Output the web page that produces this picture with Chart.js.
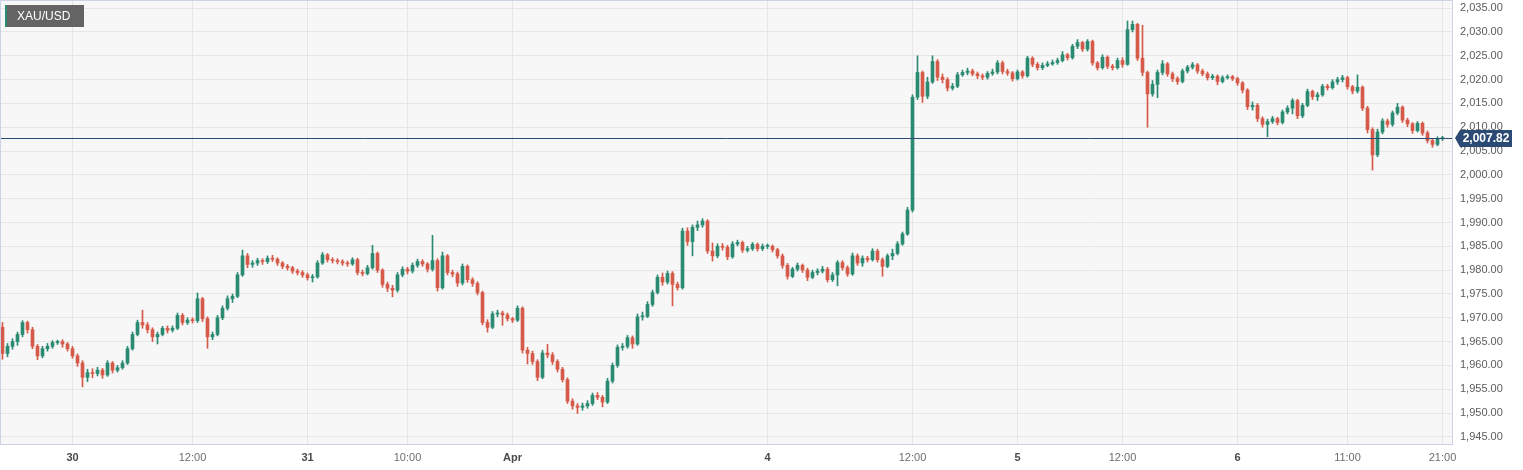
<!DOCTYPE html>
<html>
<head>
<meta charset="utf-8">
<title>XAU/USD</title>
<script src="https://cdn.jsdelivr.net/npm/chart.js@4/dist/chart.umd.min.js"></script>
<style>
  html, body { margin: 0; padding: 0; background: #fff; }
</style>
</head>
<body>
<canvas id="chart" width="1523" height="470"></canvas>
<script>
// 30-minute candles, XAU/USD, Mar 29 -> Apr 6
const symbol = 'XAU/USD';
const firstOpen = 1968;

const closes = [
  1962.5, 1964, 1965, 1966.5, 1969, 1967.5, 1964, 1962, 1963.5, 1964,
  1964.8, 1965, 1964.5, 1963.5, 1962, 1960.5, 1957.5, 1958.5, 1958.3, 1959,
  1958, 1960.5, 1959, 1959.5, 1960.5, 1963.5, 1966.5, 1969, 1968.5, 1967.5,
  1966, 1966.5, 1967.8, 1967.4, 1967.8, 1970.5, 1969, 1969.5, 1969.4, 1974,
  1969.8, 1966, 1966.5, 1970, 1972, 1974, 1974.5, 1979, 1983, 1981.2,
  1981.5, 1982, 1981.8, 1982.5, 1982.3, 1981.5, 1980.8, 1980.5, 1979.8, 1979.5,
  1979, 1978.4, 1978.6, 1981.5, 1983.2, 1982.2, 1982, 1981.8, 1981.5, 1981.3,
  1982.2, 1979.5, 1979.3, 1980.5, 1983.5, 1980, 1977, 1976.2, 1975.8, 1979,
  1980.2, 1979.8, 1981, 1981.8, 1981.3, 1980.2, 1982, 1976.3, 1983, 1979.5,
  1979.2, 1977.3, 1980.8, 1978, 1977.2, 1975.3, 1969, 1968, 1970.8, 1971,
  1970.6, 1969.8, 1969.5, 1972, 1963.2, 1962.5, 1960.8, 1957.5, 1962.6, 1962.2,
  1960.8, 1959.2, 1957, 1952.5, 1951.5, 1951.2, 1951.5, 1952, 1953.7, 1953.3,
  1952.3, 1956.7, 1960, 1963.8, 1964, 1965.8, 1964.5, 1970.2, 1970.3, 1972.8,
  1975.3, 1978.5, 1977.5, 1979.3, 1977, 1976.3, 1988.2, 1986, 1989, 1989.5,
  1990.3, 1984, 1983, 1985, 1984.8, 1982.8, 1985.5, 1985.8, 1984.2, 1984.5,
  1985.4, 1984.5, 1985, 1985, 1984.3, 1983, 1981, 1978.7, 1980.2, 1981,
  1980, 1978.5, 1979.5, 1979.8, 1980.2, 1978, 1979, 1981.6, 1980.5, 1979.2,
  1983, 1981.5, 1982.5, 1982.2, 1984, 1982.2, 1980.8, 1983, 1983.5, 1985.5,
  1987.6, 1992.6, 2016.3, 2021.5, 2016.5, 2019.5, 2023.8, 2020.5, 2020, 2018.2,
  2018.6, 2021, 2021.5, 2021.8, 2021.2, 2020.8, 2020.5, 2021.3, 2021.6, 2023.5,
  2021.7, 2021.4, 2020.2, 2021.6, 2020.8, 2024.5, 2023.2, 2022.5, 2023, 2023.3,
  2023.6, 2024, 2025.2, 2024.6, 2027, 2027.8, 2026.4, 2028, 2023.5, 2022.5,
  2024.7, 2022.8, 2022.5, 2024, 2023.2, 2030.5, 2031.6, 2024.5, 2021.5, 2017,
  2019, 2021.5, 2023.3, 2021.2, 2020.2, 2019.6, 2021.8, 2022.6, 2023.1, 2021.8,
  2021.2, 2020.4, 2020.7, 2019.6, 2020.4, 2020.6, 2020.2, 2019.3, 2017.8, 2014.3,
  2014.6, 2011.8, 2010.6, 2011.2, 2011.8, 2011, 2013.2, 2014, 2015.6, 2012.4,
  2014.6, 2017.5, 2016.4, 2016.8, 2018.6, 2018.3, 2019.5, 2020, 2020.4, 2018.5,
  2017.6, 2018.4, 2014, 2009.5, 2004.2, 2009, 2011.3, 2010.6, 2013, 2014.2,
  2011.5, 2010.7, 2009.3, 2010.8, 2008.8, 2007.2, 2006.4, 2007.6, 2007.82
];

const highs = [
  1969, 1964.6, 1965.6, 1967, 1969.4, 1969.3, 1968, 1964.4, 1964, 1964.6,
  1965.2, 1965.3, 1965.4, 1964.8, 1964, 1962.4, 1961, 1959.2, 1959.3, 1959.6,
  1959.4, 1961, 1960.8, 1960, 1961, 1964, 1967, 1969.5, 1971.6, 1969,
  1967.9, 1967, 1968.2, 1968.3, 1968.3, 1971, 1970.9, 1970, 1970, 1975.2,
  1974.3, 1970.2, 1967, 1970.5, 1972.5, 1974.6, 1975, 1979.5, 1984.2, 1983.5,
  1982, 1982.5, 1982.4, 1983, 1983.1, 1982.6, 1981.8, 1981.2, 1980.8, 1980.2,
  1979.9, 1979.4, 1979.1, 1982, 1983.7, 1983.5, 1982.6, 1982.4, 1982.2, 1981.9,
  1982.6, 1982.5, 1980, 1981, 1985.2, 1983.8, 1980.3, 1977.5, 1976.8, 1979.5,
  1980.7, 1980.6, 1981.5, 1982.3, 1982.2, 1981.6, 1987.3, 1982.4, 1983.8, 1983.3,
  1980, 1979.6, 1981.3, 1981.1, 1978.4, 1977.6, 1975.6, 1969.6, 1971.3, 1971.6,
  1971.4, 1971, 1970.1, 1972.5, 1972.3, 1963.8, 1963, 1961.2, 1963.2, 1964.4,
  1962.7, 1961.2, 1959.6, 1957.4, 1953, 1952, 1952.1, 1952.6, 1954.2, 1954.3,
  1953.7, 1957.3, 1960.5, 1964.3, 1964.6, 1966.3, 1966.2, 1970.8, 1971.2, 1973.4,
  1975.8, 1979, 1979.4, 1979.8, 1979.7, 1977.5, 1988.8, 1988.9, 1989.5, 1990.3,
  1990.8, 1990.6, 1985.7, 1985.5, 1985.6, 1985.2, 1986, 1986.3, 1986.1, 1985,
  1985.8, 1985.7, 1985.5, 1985.5, 1985.3, 1984.6, 1983.4, 1981.4, 1980.6, 1981.5,
  1981.3, 1980.4, 1980, 1980.3, 1980.8, 1980.6, 1979.5, 1982, 1982, 1980.9,
  1983.6, 1983.4, 1983, 1982.9, 1984.5, 1984.4, 1982.6, 1983.4, 1984.4, 1986,
  1988, 1993.2, 2016.8, 2025, 2021.8, 2020.5, 2025, 2024.2, 2021.2, 2020.4,
  2019.2, 2021.5, 2022, 2022.4, 2022.2, 2021.6, 2021.2, 2021.7, 2022.2, 2024,
  2023.9, 2022.2, 2021.7, 2022, 2021.9, 2024.9, 2024.8, 2023.6, 2023.5, 2023.8,
  2024.1, 2024.5, 2025.9, 2025.5, 2027.4, 2028.4, 2028, 2028.4, 2028.3, 2023.8,
  2025.2, 2025, 2023.2, 2024.5, 2024.6, 2032.3, 2032.3, 2031.8, 2031.4, 2021.8,
  2019.8, 2022, 2024, 2023.6, 2021.6, 2020.6, 2022.2, 2023, 2023.6, 2023.4,
  2022.2, 2021.6, 2021.1, 2021, 2020.8, 2021, 2020.9, 2020.5, 2019.6, 2018.1,
  2015.3, 2015, 2012.2, 2011.7, 2012.3, 2012.1, 2013.6, 2014.5, 2016, 2015.9,
  2015, 2018, 2017.8, 2017.3, 2019, 2019, 2020, 2020.5, 2020.9, 2020.7,
  2018.8, 2021, 2018.7, 2014.4, 2009.9, 2009.6, 2011.8, 2011.7, 2013.4, 2015,
  2014.5, 2011.9, 2011, 2011.2, 2011.1, 2009.2, 2007.6, 2008, 2008.1
];

const lows = [
  1961.3, 1961.8, 1963.4, 1964.2, 1966, 1966.8, 1963.5, 1961.2, 1961.6, 1963,
  1963.6, 1964.4, 1963.8, 1963, 1961.5, 1959.8, 1955.5, 1956.6, 1957.4, 1957.8,
  1957.3, 1957.7, 1958.4, 1958.6, 1959.2, 1960.2, 1963.2, 1966.2, 1967.8, 1966.8,
  1965, 1964.5, 1966.2, 1966.8, 1967, 1967.5, 1968.5, 1968.6, 1968.9, 1969,
  1969.2, 1963.6, 1965.4, 1966.2, 1969.6, 1971.6, 1973.2, 1974.2, 1978.7, 1980.5,
  1980.6, 1981, 1981.2, 1981.4, 1981.8, 1981, 1980.3, 1980, 1979.3, 1979,
  1978.5, 1977.9, 1977.5, 1978.3, 1981.2, 1981.7, 1981.5, 1981.3, 1981, 1980.8,
  1981, 1979, 1978.8, 1979, 1980.2, 1979.5, 1976.4, 1975.5, 1974.4, 1975.4,
  1978.6, 1979.2, 1979.4, 1980.6, 1980.8, 1979.6, 1979.8, 1975.6, 1976, 1979,
  1978.6, 1976.6, 1976.9, 1977.4, 1976.6, 1974.8, 1968.5, 1967, 1967.7, 1970.2,
  1968.4, 1969.3, 1969, 1969.2, 1962.6, 1960.3, 1960.2, 1956.8, 1957.2, 1961.6,
  1960.2, 1958.6, 1956.5, 1952, 1950.8, 1949.9, 1950.6, 1951, 1951.6, 1952.8,
  1951.3, 1952, 1956.3, 1959.6, 1963.2, 1963.6, 1963.6, 1964.2, 1969.5, 1970,
  1972.4, 1975, 1976.8, 1977.1, 1972.5, 1975.8, 1976, 1985.2, 1983, 1988.3,
  1989, 1983.5, 1981.9, 1982.6, 1984.2, 1982.2, 1982.5, 1985.1, 1983.7, 1983.8,
  1984.1, 1984, 1984.1, 1984.5, 1983.8, 1982.5, 1980.4, 1978.1, 1978.4, 1979.8,
  1979.5, 1977.8, 1978.2, 1979, 1979.4, 1977.5, 1977.6, 1976.7, 1980, 1978.7,
  1978.9, 1981, 1980.8, 1981.7, 1981.9, 1981.7, 1978.7, 1980.5, 1982.2, 1983.2,
  1985.2, 1987.3, 1992.2, 2015.8, 2015.2, 2016, 2019.2, 2019.8, 2019.3, 2017.6,
  2017.8, 2018.3, 2020.7, 2021, 2020.8, 2020.2, 2020, 2020.1, 2020.9, 2021.2,
  2021.2, 2020.9, 2019.7, 2019.9, 2020.3, 2020.5, 2022.7, 2022, 2022.1, 2022.7,
  2023, 2023.2, 2023.7, 2024.1, 2024.3, 2026.5, 2025.9, 2026, 2023, 2022,
  2022.2, 2022.3, 2022, 2022.2, 2022.6, 2023, 2030, 2024, 2020.8, 2010,
  2016.5, 2016.2, 2021, 2020.7, 2019.6, 2019, 2019.3, 2021.4, 2022.2, 2021.3,
  2020.8, 2019.9, 2020, 2018.9, 2019.3, 2020.1, 2019.8, 2018.8, 2017.2, 2013.7,
  2013.6, 2011.2, 2010, 2008, 2010.8, 2010.5, 2010.7, 2012.8, 2012.8, 2011.8,
  2012, 2014.3, 2015.8, 2015.6, 2016.5, 2017.8, 2018, 2019, 2019.5, 2018,
  2017, 2017.2, 2013.5, 2008.8, 2001, 2003.8, 2008.6, 2010, 2010.2, 2012.6,
  2011, 2010.1, 2008.7, 2009, 2008.3, 2006.7, 2005.8, 2006.1, 2007.2
];

// x axis labels and the candle they sit on
const tickLabels = ['30', '12:00', '31', '10:00', 'Apr', '4', '12:00', '5', '12:00', '6', '11:00', '21:00'];
const tickAt = [14, 38, 61, 81, 102, 153, 182, 203, 224, 247, 269, 288];
const dayLabels = ['30', '31', 'Apr', '4', '5', '6'];

const yTicks = [1945, 1950, 1955, 1960, 1965, 1970, 1975, 1980, 1985, 1990,
                1995, 2000, 2005, 2010, 2015, 2020, 2025, 2030, 2035];

const GREEN = '#2b8a72';
const RED = '#d65a49';
const NAVY = '#2b4a74';
const FONT = '"Liberation Sans", Arial, sans-serif';

const opens = closes.map((c, i) => i === 0 ? firstOpen : closes[i - 1]);
const colors = closes.map((c, i) => c >= opens[i] ? GREEN : RED);
const bodies = closes.map((c, i) => ({ x: i, y: [opens[i], c] }));
const wicks = closes.map((c, i) => ({ x: i, y: [lows[i], highs[i]] }));

const fmt = v => v.toLocaleString('en-US', { minimumFractionDigits: 2, maximumFractionDigits: 2 });

function noPadding(scale) {
    scale.paddingTop = 0;
    scale.paddingBottom = 0;
    scale.paddingLeft = 0;
    scale.paddingRight = 0;
}

const decorPlugin = {
    id: 'decor',
    beforeDraw(chart) {
        const { ctx, chartArea: a } = chart;
        ctx.save();
        ctx.fillStyle = '#fff';
        ctx.fillRect(0, 0, chart.width, chart.height);
        ctx.fillStyle = '#f7f7f7';
        ctx.fillRect(a.left, a.top, a.right - a.left, a.bottom - a.top);
        ctx.restore();
    },
    afterDatasetsDraw(chart) {
        const { ctx, chartArea: a } = chart;
        const y = Math.round(chart.scales.y.getPixelForValue(closes[closes.length - 1])) + 0.5;
        ctx.save();
        ctx.strokeStyle = NAVY;
        ctx.lineWidth = 1;
        ctx.beginPath();
        ctx.moveTo(a.left, y);
        ctx.lineTo(a.right, y);
        ctx.stroke();
        ctx.restore();
    },
    afterDraw(chart) {
        const { ctx, chartArea: a } = chart;
        ctx.save();

        // plot frame
        ctx.strokeStyle = '#cdd3e6';
        ctx.lineWidth = 1;
        ctx.strokeRect(a.left - 0.5, a.top - 0.5, a.right - a.left + 1, a.bottom - a.top + 1);

        // last price tag
        const last = closes[closes.length - 1];
        const y = Math.round(chart.scales.y.getPixelForValue(last));
        const x0 = a.right + 3;
        ctx.fillStyle = NAVY;
        ctx.beginPath();
        ctx.moveTo(x0, y);
        ctx.lineTo(x0 + 5, y - 8);
        ctx.lineTo(x0 + 57, y - 8);
        ctx.lineTo(x0 + 57, y + 9);
        ctx.lineTo(x0 + 5, y + 9);
        ctx.closePath();
        ctx.fill();
        ctx.fillStyle = '#fff';
        ctx.font = 'bold 12px ' + FONT;
        ctx.textAlign = 'center';
        ctx.textBaseline = 'middle';
        ctx.fillText(fmt(last), x0 + 31, y + 1);

        // symbol badge
        ctx.fillStyle = '#646464';
        ctx.fillRect(5, 5, 79, 22);
        ctx.fillStyle = GREEN;
        ctx.fillRect(5, 5, 2, 22);
        ctx.fillStyle = '#fff';
        ctx.font = '12px ' + FONT;
        ctx.textAlign = 'left';
        ctx.fillText(symbol, 17, 16.5);

        ctx.restore();
    }
};

new Chart(document.getElementById('chart'), {
    type: 'bar',
    data: {
        datasets: [
            {
                label: 'body',
                data: bodies,
                backgroundColor: colors,
                barThickness: 3,
                minBarLength: 1,
                grouped: false,
                order: 0
            },
            {
                label: 'wick',
                data: wicks,
                backgroundColor: colors,
                barThickness: 1,
                grouped: false,
                order: 1
            }
        ]
    },
    options: {
        responsive: false,
        animation: false,
        layout: { padding: { left: 1, top: 1, right: 0, bottom: 0 } },
        plugins: {
            legend: { display: false },
            tooltip: { enabled: false }
        },
        scales: {
            x: {
                type: 'linear',
                offset: false,
                min: -0.3,
                max: 289.9,
                afterBuildTicks: axis => { axis.ticks = tickAt.map(v => ({ value: v })); },
                afterFit: scale => { scale.height = 26; noPadding(scale); },
                grid: { color: '#e6e6e6', drawTicks: false, offset: false },
                border: { display: false },
                ticks: {
                    autoSkip: false,
                    maxRotation: 0,
                    padding: 7,
                    callback: (v, i) => tickLabels[i],
                    color: ctx => dayLabels.includes(tickLabels[ctx.index]) ? '#4a4a4a' : '#6e6e6e',
                    font: ctx => ({
                        family: FONT,
                        size: 11,
                        weight: dayLabels.includes(tickLabels[ctx.index]) ? 'bold' : 'normal'
                    })
                }
            },
            y: {
                position: 'right',
                min: 1943.5,
                max: 2036.5,
                afterBuildTicks: axis => { axis.ticks = yTicks.map(v => ({ value: v })); },
                afterFit: scale => { scale.width = 71; noPadding(scale); },
                grid: { color: '#e6e6e6', drawTicks: false },
                border: { display: false },
                ticks: {
                    padding: 8,
                    color: '#5c5c5c',
                    font: { family: FONT, size: 11 },
                    callback: v => fmt(v)
                }
            }
        }
    },
    plugins: [decorPlugin]
});
</script>
</body>
</html>
